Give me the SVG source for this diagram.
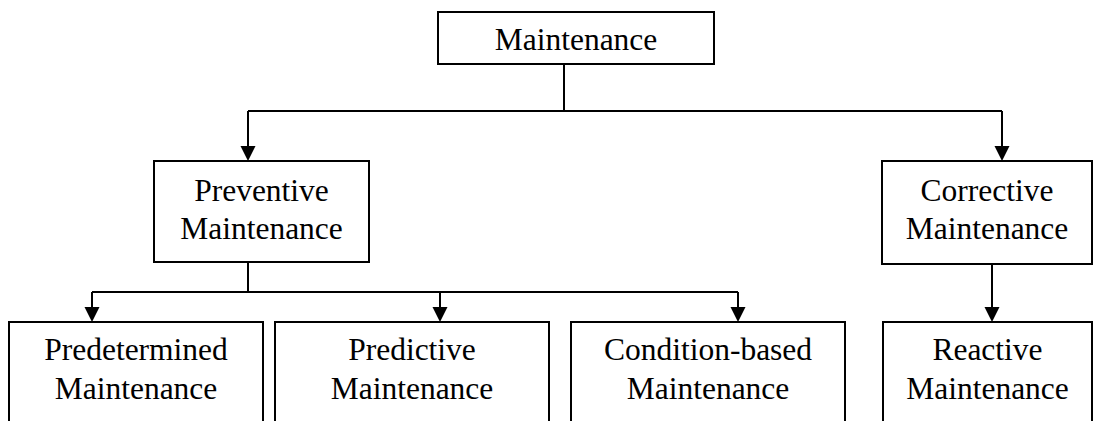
<svg xmlns="http://www.w3.org/2000/svg" width="1097" height="421" viewBox="0 0 1097 421">
<style>
.box{fill:#fff;stroke:#000;stroke-width:2}
.t{font-family:"Liberation Serif","Times New Roman",serif;font-size:31.5px;fill:#000;text-anchor:middle}
.c{fill:none;stroke:#000;stroke-width:2}
.ah{fill:#000;stroke:none}
</style>
<rect width="1097" height="421" fill="#fff"/>
<g id="connectors">
<path class="c" d="M564,64 V111"/>
<path class="c" d="M248,111 H1002"/>
<path class="c" d="M248,111 V150"/>
<polygon class="ah" points="240.5,146 255.5,146 248,161"/>
<path class="c" d="M1002,111 V150"/>
<polygon class="ah" points="994.5,146 1009.5,146 1002,161"/>
<path class="c" d="M248,262 V292"/>
<path class="c" d="M92,292 H738"/>
<path class="c" d="M92,292 V311"/>
<polygon class="ah" points="84.5,307 99.5,307 92,322"/>
<path class="c" d="M440,292 V311"/>
<polygon class="ah" points="432.5,307 447.5,307 440,322"/>
<path class="c" d="M738,292 V311"/>
<polygon class="ah" points="730.5,307 745.5,307 738,322"/>
<path class="c" d="M992,264 V311"/>
<polygon class="ah" points="984.5,307 999.5,307 992,322"/>
</g>
<g id="maintenance">
<rect class="box" x="438" y="12" width="276" height="52"/>
<text class="t" x="576" y="50">Maintenance</text>
</g>
<g id="preventive">
<rect class="box" x="154" y="161" width="215" height="101"/>
<text class="t" x="261.5" y="201">Preventive</text>
<text class="t" x="261.5" y="239">Maintenance</text>
</g>
<g id="corrective">
<rect class="box" x="882" y="161" width="210" height="103"/>
<text class="t" x="987" y="201">Corrective</text>
<text class="t" x="987" y="239">Maintenance</text>
</g>
<g id="predetermined">
<rect class="box" x="9" y="322" width="254" height="110"/>
<text class="t" x="136" y="360">Predetermined</text>
<text class="t" x="136" y="399">Maintenance</text>
</g>
<g id="predictive">
<rect class="box" x="275" y="322" width="274" height="110"/>
<text class="t" x="412" y="360">Predictive</text>
<text class="t" x="412" y="399">Maintenance</text>
</g>
<g id="condition">
<rect class="box" x="571" y="322" width="274" height="110"/>
<text class="t" x="708" y="360">Condition-based</text>
<text class="t" x="708" y="399">Maintenance</text>
</g>
<g id="reactive">
<rect class="box" x="883" y="322" width="209" height="110"/>
<text class="t" x="987.5" y="360">Reactive</text>
<text class="t" x="987.5" y="399">Maintenance</text>
</g>
</svg>
